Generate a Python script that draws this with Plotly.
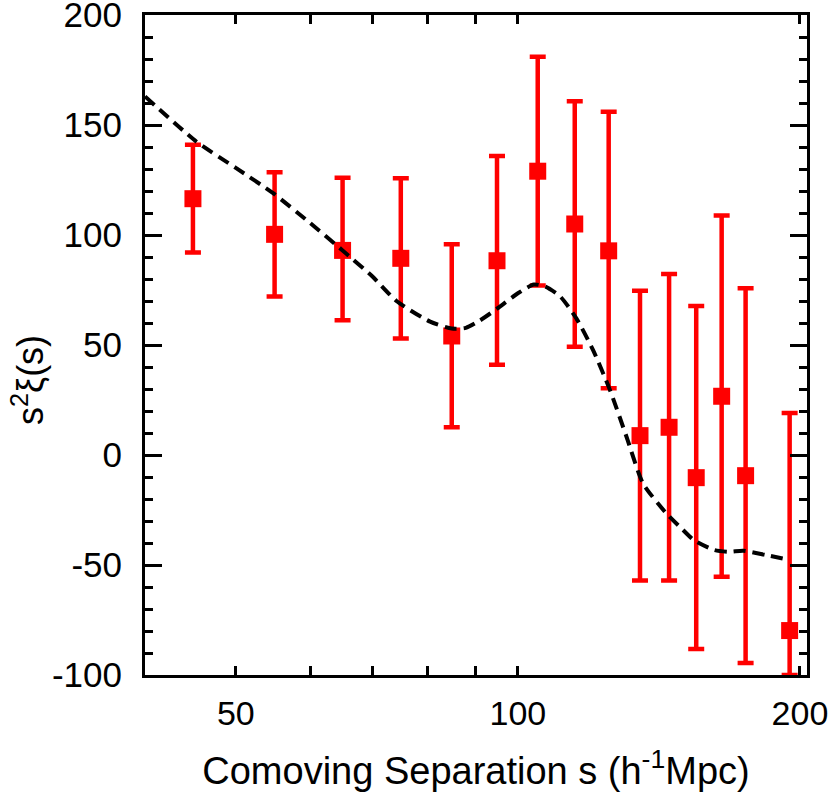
import math
import plotly.graph_objects as go

# Measured correlation function points
sep = [45, 55, 65, 75, 85, 95, 105, 115, 125, 135, 145, 155, 165, 175, 195]
s2xi = [116.5, 100.3, 93.0, 89.4, 54.1, 88.3, 129.0, 105.0, 92.8, 8.8, 12.6, -10.3, 26.7, -9.4, -79.8]
err_up = [24.5, 28.2, 33.0, 36.4, 41.7, 47.6, 52.0, 55.8, 63.2, 65.9, 69.7, 78.0, 82.2, 85.2, 98.9]
err_down = [24.5, 28.3, 31.8, 36.5, 41.5, 47.3, 51.9, 55.8, 62.5, 65.9, 69.7, 77.9, 82.0, 85.1, 20.2]

# Model curve (dashed)
model_s = [40, 45.4, 50, 54.8, 60, 65, 70, 74.2, 80.6, 85, 88, 91, 95, 100, 104,
           107, 111, 115.5, 120.3, 125.4, 130.6, 136, 144, 150, 154, 162, 168, 174, 184, 195]
model_y = [163, 142.4, 130.5, 119, 105.5, 93, 81, 70, 60.6, 57.5, 57.8, 61, 66.5, 73.5, 77.5,
           76.5, 72, 62, 47.7, 29.5, 8.3, -12.9, -26.5, -34, -38.6, -43.2, -44, -43.5, -45.5, -47.7]

x_ticks = [50, 100, 200]
x_minor = [60, 70, 80, 90]
x_major_long = [100]
x_range = [40, 203.5]
y_ticks = [-100, -50, 0, 50, 100, 150, 200]
y_range = [-100, 200]

FONT = "Liberation Sans, Arial, Helvetica, sans-serif"

fig = go.Figure()

fig.add_trace(go.Scatter(
    x=sep, y=s2xi, mode="markers",
    marker=dict(symbol="square", size=17, color="#ff0000", line=dict(width=0)),
    error_y=dict(type="data", symmetric=False, array=err_up, arrayminus=err_down,
                 color="#ff0000", thickness=4.5, width=8),
    cliponaxis=False, showlegend=False,
))

fig.add_trace(go.Scatter(
    x=model_s, y=model_y, mode="lines",
    line=dict(color="black", width=4, dash="12px,7px", shape="spline", smoothing=0.6),
    showlegend=False,
))

axis_common = dict(
    showline=True, linewidth=3, linecolor="black", mirror="allticks",
    ticks="inside", tickwidth=3, tickcolor="black",
    showgrid=False, zeroline=False, automargin=False,
    ticklabeloverflow="allow",
)

fig.update_layout(
    width=830, height=795,
    margin=dict(l=145, r=23, t=15, b=120),
    paper_bgcolor="white", plot_bgcolor="white",
    font=dict(family=FONT, color="black"),
    showlegend=False,
    xaxis=dict(
        type="log", range=[math.log10(x_range[0]), math.log10(x_range[1])],
        tickmode="array", tickvals=x_ticks, ticktext=[str(v) for v in x_ticks],
        ticklen=9, ticklabelstandoff=6,
        tickfont=dict(size=34, family=FONT),
        minor=dict(tickmode="array", tickvals=x_minor, ticks="inside", ticklen=9,
                   tickwidth=3, tickcolor="black"),
        title=dict(text="Comoving Separation s (h<sup>-1</sup>Mpc)",
                   font=dict(size=38, family=FONT), standoff=27),
        **axis_common,
    ),
    xaxis2=dict(
        type="log", range=[math.log10(x_range[0]), math.log10(x_range[1])],
        overlaying="x", anchor="y", side="bottom",
        tickmode="array", tickvals=x_major_long, showticklabels=False,
        ticks="inside", ticklen=17, tickwidth=3, tickcolor="black",
        mirror="allticks", showline=False, showgrid=False, zeroline=False,
    ),
    yaxis=dict(
        range=y_range, tickmode="array", tickvals=y_ticks,
        ticktext=[str(v) for v in y_ticks],
        ticklen=17, ticklabelstandoff=13,
        tickfont=dict(size=35, family=FONT),
        minor=dict(dtick=10, tick0=0, ticks="inside", ticklen=8, tickwidth=3,
                   tickcolor="black"),
        **axis_common,
    ),
    annotations=[dict(
        text="s<sup>2</sup>ξ(s)", textangle=-90,
        xref="paper", yref="paper", x=(28 - 145) / 662, y=(675 - 380) / 660,
        xanchor="center", yanchor="middle", showarrow=False,
        font=dict(size=36, family=FONT, color="black"),
    )],
)

fig.write_html("out.html", config={"displayModeBar": False},
               post_script="document.body.style.margin='0px';")
